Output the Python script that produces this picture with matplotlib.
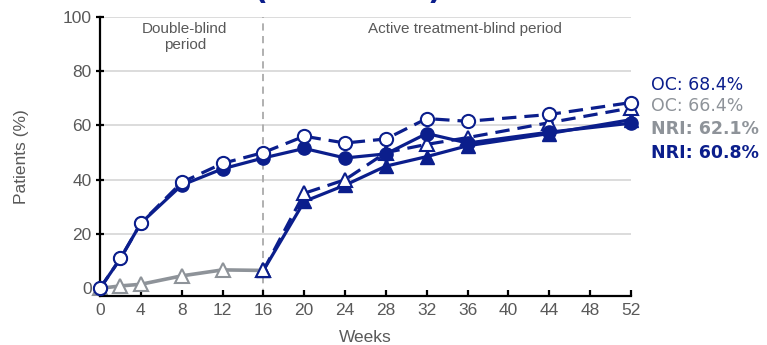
import matplotlib
matplotlib.use("Agg")
import matplotlib.pyplot as plt

# Weeks and response rates (%)
weeks_grp1 = [0, 2, 4, 8, 12, 16, 20, 24, 28, 32, 36, 44, 52]
grp1_oc = [0, 11, 24, 39, 46, 50, 56, 53.5, 55, 62.5, 61.5, 64, 68.4]
grp1_nri = [0, 11, 24, 38, 44, 48, 51.5, 48, 49.5, 57, 53.5, 57.5, 60.8]

weeks_pbo = [0, 2, 4, 8, 12, 16]
pbo_vals = [0, 0.9, 1.5, 4.6, 6.8, 6.6]

weeks_grp2 = [16, 20, 24, 28, 32, 36, 44, 52]
grp2_oc = [6.6, 35, 40, 50, 53, 55.5, 61, 66.4]
grp2_nri = [6.6, 32, 38, 45, 48.5, 52.5, 57, 62.1]

x_ticks = [0, 4, 8, 12, 16, 20, 24, 28, 32, 36, 40, 44, 48, 52]
y_ticks = [0, 20, 40, 60, 80, 100]

end_labels = ["OC: 68.4%", "OC: 66.4%", "NRI: 62.1%", "NRI: 60.8%"]
end_label_y = [75, 67, 58.5, 50]

NAVY = "#0B1E8C"
GREY = "#8E9399"
TXT = "#595959"

plt.rcParams["font.family"] = ["Liberation Sans", "DejaVu Sans"]

fig = plt.figure(figsize=(7.67, 3.45), dpi=100)
ax = fig.add_axes([0.1304, 0.1429, 0.6923, 0.8087])

ax.set_xlim(0, 52)
ax.set_ylim(-2.7, 100)

for y in y_ticks[1:]:
    ax.axhline(y, color="#D9D9D9", lw=1.3, zorder=0)
ax.axvline(16, color="#AAAAAA", lw=1.3, ls=(0, (4, 3)), zorder=0.5)

dash = (0, (4.5, 2.5))
lw = 2.3
ms = 9.5

# Placebo phase
ax.plot(weeks_pbo, pbo_vals, color=GREY, lw=2.6, marker="^", ms=ms,
        mfc="white", mec=GREY, mew=1.5, clip_on=False, zorder=2)

# Group switching to active treatment at week 16
ax.plot(weeks_grp2, grp2_nri, color=NAVY, lw=lw, marker="^", ms=ms,
        mfc=NAVY, mec=NAVY, clip_on=False, zorder=3)
ax.plot(weeks_grp2, grp2_oc, color=NAVY, lw=lw, ls=dash, marker="^", ms=ms,
        mfc="white", mec=NAVY, mew=1.5, clip_on=False, zorder=4)

# Group on active treatment throughout
ax.plot(weeks_grp1, grp1_nri, color=NAVY, lw=lw, marker="o", ms=ms,
        mfc=NAVY, mec=NAVY, clip_on=False, zorder=5)
ax.plot(weeks_grp1, grp1_oc, color=NAVY, lw=lw, ls=dash, marker="o", ms=ms,
        mfc="white", mec=NAVY, mew=1.5, clip_on=False, zorder=6)

for s in ["top", "right"]:
    ax.spines[s].set_visible(False)
ax.spines["left"].set_bounds(-2.7, 100)
ax.spines["left"].set_linewidth(1.6)
ax.spines["bottom"].set_linewidth(1.6)

ax.set_xticks(x_ticks)
ax.set_yticks(y_ticks)
ax.tick_params(axis="x", direction="in", length=4, width=1.6, colors="black",
               labelcolor=TXT, labelsize=12.5, pad=5)
ax.tick_params(axis="y", direction="inout", length=6, width=1.6, colors="black",
               labelcolor=TXT, labelsize=12.5, pad=3)

ax.set_xlabel("Weeks", color=TXT, fontsize=12.5, labelpad=9)
ax.set_ylabel("Patients (%)", color=TXT, fontsize=12.5, labelpad=24)

ax.text(8.3, 98, "Double-blind\nperiod", ha="center", va="top",
        color=TXT, fontsize=11, linespacing=1.2)
ax.text(35.7, 98, "Active treatment-blind period", ha="center", va="top",
        color=TXT, fontsize=11)

label_colors = [NAVY, GREY, GREY, NAVY]
label_weights = ["normal", "normal", "bold", "bold"]
for txt, yv, c, w in zip(end_labels, end_label_y, label_colors, label_weights):
    ax.text(54, yv, txt, color=c, fontweight=w, fontsize=12.5, ha="left",
            va="center", family="DejaVu Sans", clip_on=False)

# Title parentheses running off the top edge
fig.text(253 / 767, 1.002, "(", color=NAVY, fontsize=22, fontweight="bold",
         ha="left", va="baseline", family="DejaVu Sans")
fig.text(428 / 767, 1.004, ")", color=NAVY, fontsize=22, fontweight="bold",
         ha="left", va="baseline", family="DejaVu Sans")

fig.savefig("out.png", dpi=100)
